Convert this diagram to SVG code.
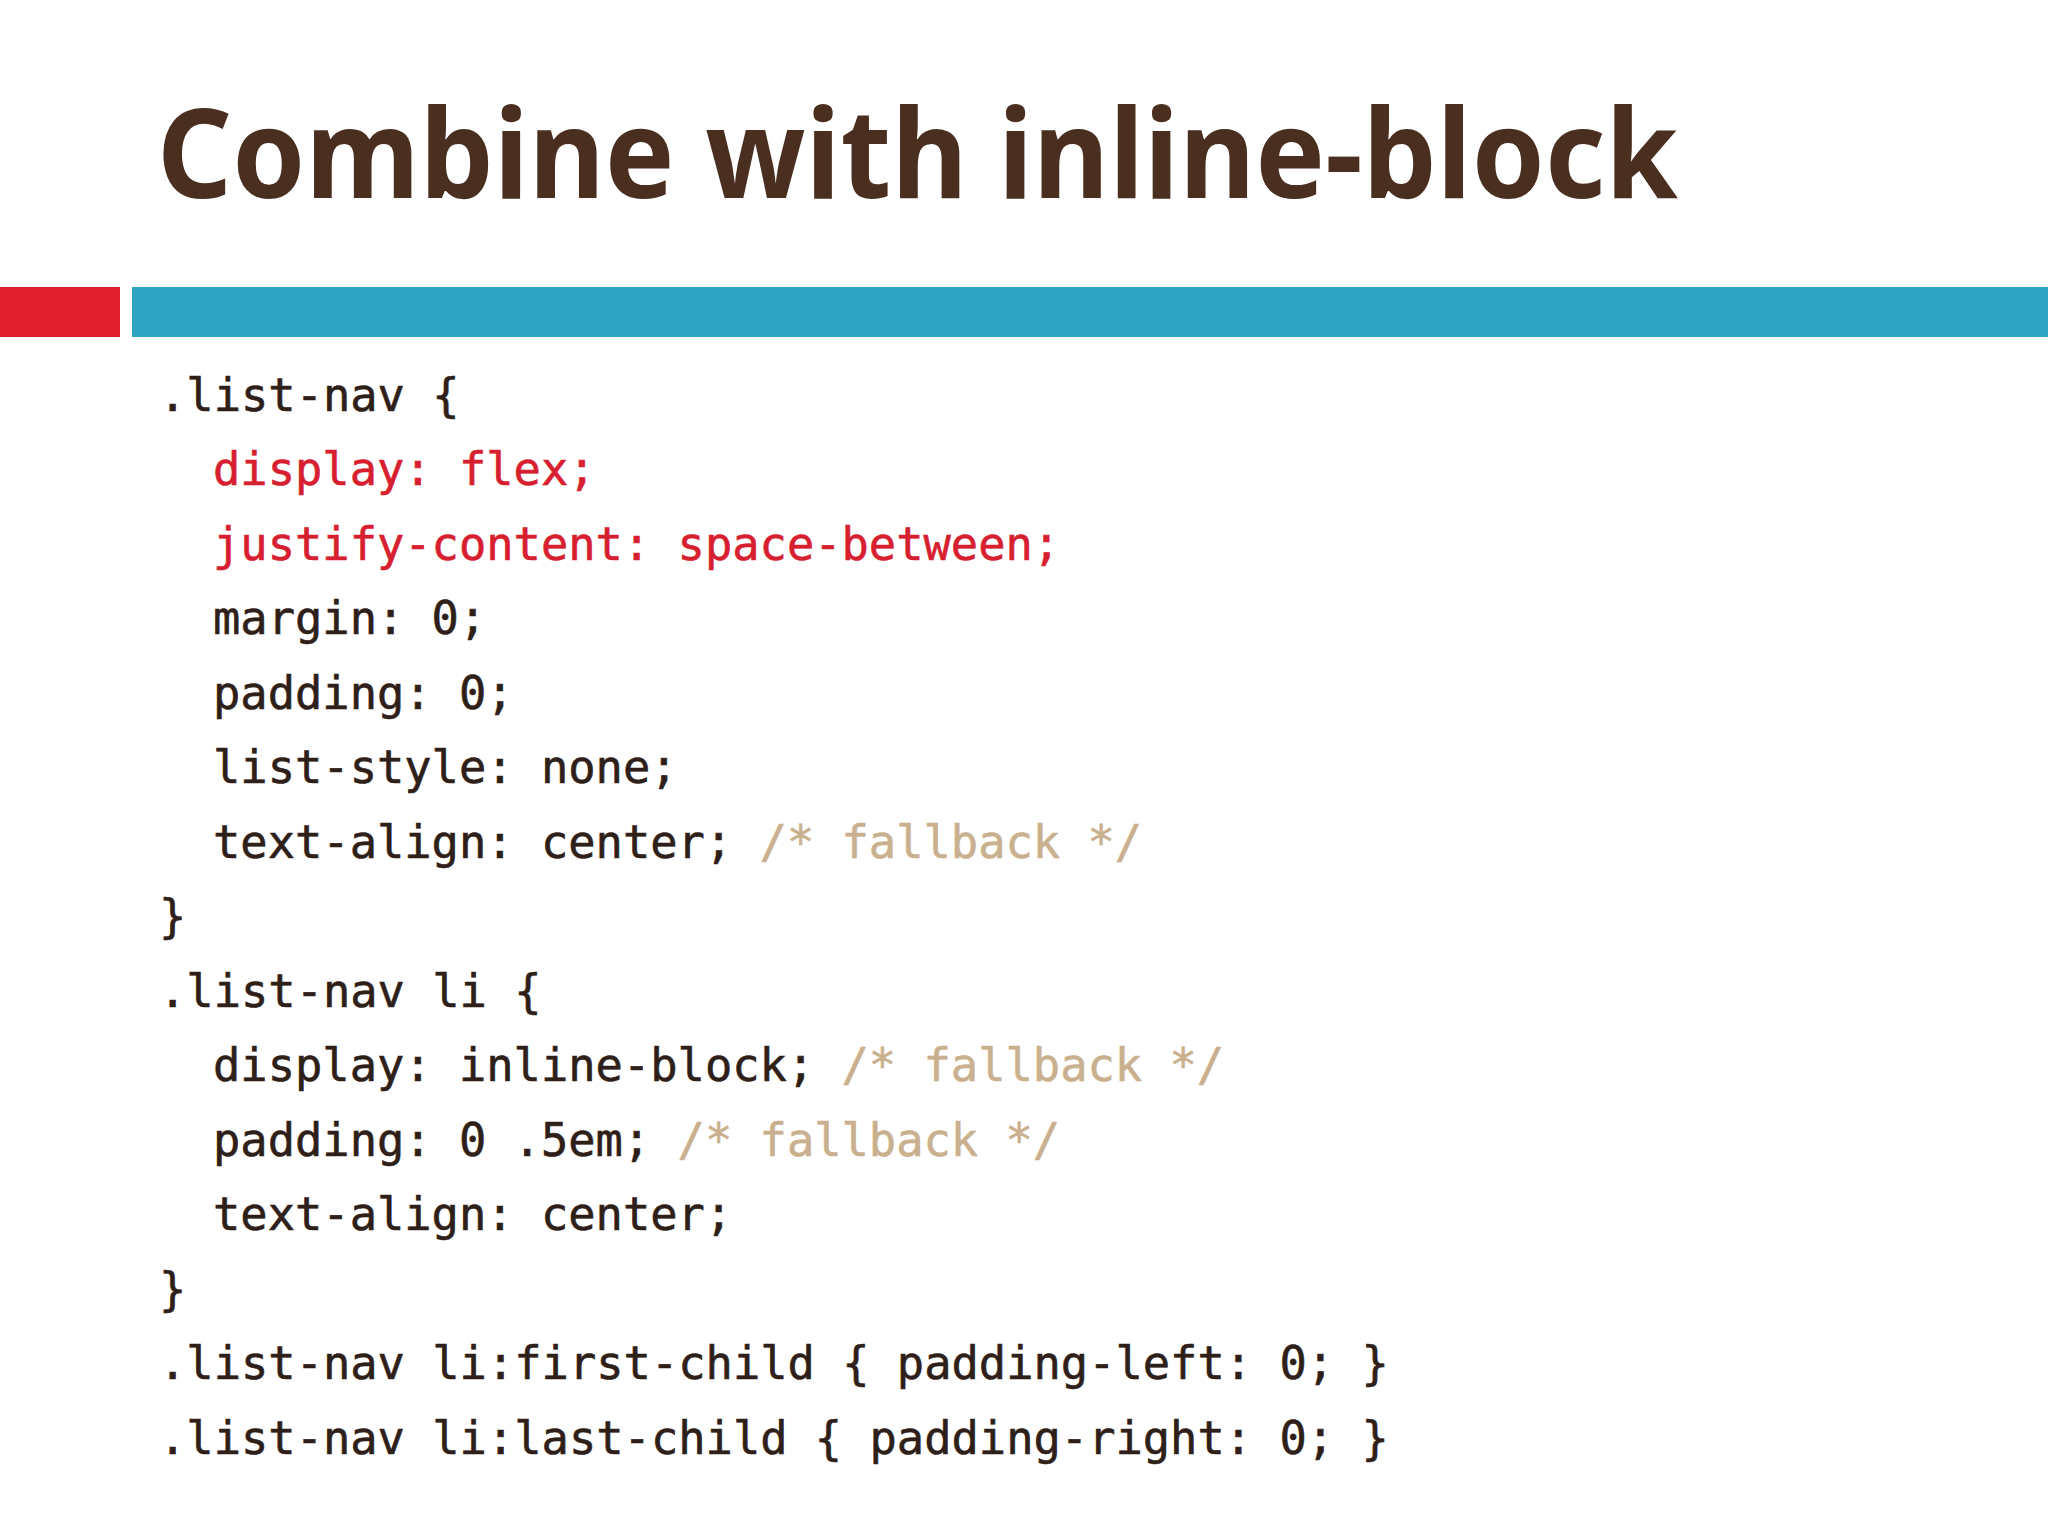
<svg xmlns="http://www.w3.org/2000/svg" width="2048" height="1536" viewBox="0 0 2048 1536">
<style>
.t{font-family:"Noto Sans","DejaVu Sans",sans-serif;font-weight:bold;font-size:124px;fill:#4a2e1f}
.c{font-family:"DejaVu Sans Mono","Liberation Mono",monospace;font-size:45.4px;fill:#2e2018;white-space:pre;stroke:#2e2018;stroke-width:0.6}
.r{fill:#d7202f;stroke:#d7202f}.m{fill:#c9b08e;stroke:#c9b08e}
</style>
<rect width="2048" height="1536" fill="#fff"/>
<g id="title"><text class="t" x="157" y="198" textLength="1521" lengthAdjust="spacingAndGlyphs">Combine with inline-block</text></g>
<g id="bars"><rect x="0" y="287" width="120" height="50" fill="#e01f2d"/><rect x="132" y="287" width="1916" height="50" fill="#2ea3c1"/></g>
<g id="code">
<text class="c" x="159" y="411">.list-nav {</text>
<text class="c r" x="213" y="485">display: flex;</text>
<text class="c r" x="213" y="560">justify-content: space-between;</text>
<text class="c" x="213" y="634">margin: 0;</text>
<text class="c" x="213" y="709">padding: 0;</text>
<text class="c" x="213" y="783">list-style: none;</text>
<text class="c" x="213" y="858">text-align: center; <tspan class="m">/* fallback */</tspan></text>
<text class="c" x="159" y="932">}</text>
<text class="c" x="159" y="1007">.list-nav li {</text>
<text class="c" x="213" y="1081">display: inline-block; <tspan class="m">/* fallback */</tspan></text>
<text class="c" x="213" y="1156">padding: 0 .5em; <tspan class="m">/* fallback */</tspan></text>
<text class="c" x="213" y="1230">text-align: center;</text>
<text class="c" x="159" y="1305">}</text>
<text class="c" x="159" y="1379">.list-nav li:first-child { padding-left: 0; }</text>
<text class="c" x="159" y="1454">.list-nav li:last-child { padding-right: 0; }</text>
</g>
</svg>
